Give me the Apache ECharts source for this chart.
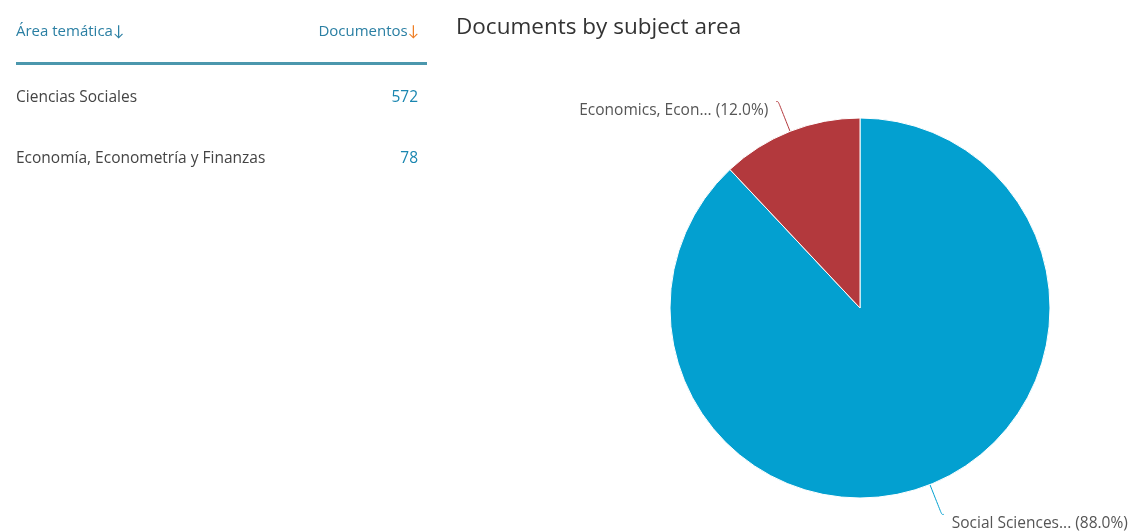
<!DOCTYPE html>
<html>
<head>
<meta charset="utf-8">
<script src="https://cdn.jsdelivr.net/npm/echarts@6/dist/echarts.min.js"></script>
<style>
  html, body { margin: 0; padding: 0; background: #fff; }
  #chart { width: 1135px; height: 531px; }
</style>
</head>
<body>
<div id="chart"></div>
<script>
// Table content (Spanish) and pie content (English)
const tableHeaders = ['Área temática', 'Documentos'];
const tableAreas = ['Ciencias Sociales', 'Economía, Econometría y Finanzas'];
const tableCounts = [572, 78];

const pieTitle = 'Documents by subject area';
const pieNames = ['Social Sciences', 'Economics, Econometrics and Finance'];
const pieValues = [572, 78];
const pieColors = ['#03a0d0', '#b3393d'];

const FONT = '"Open Sans", Lato, sans-serif';
const chart = echarts.init(document.getElementById('chart'), null, { renderer: 'canvas' });

// Left-hand table built from graphic elements
const graphics = [];
graphics.push({
  type: 'text', left: 16, top: 24,
  style: { text: tableHeaders[0] + '{a|↓}', fill: '#2a7fa3', font: '15px ' + FONT,
    rich: { a: { fill: '#2a7fa3', font: '15px ' + FONT } } }
});
graphics.push({
  type: 'text', right: 1135 - 419, top: 24,
  style: { text: tableHeaders[1] + '{a|↓}', fill: '#2a7fa3', font: '15px ' + FONT, align: 'right',
    rich: { a: { fill: '#ef7d22', font: '15px ' + FONT } } }
});
graphics.push({
  type: 'rect', shape: { x: 16, y: 62, width: 411, height: 3 },
  style: { fill: '#4b97ad' }
});
tableAreas.forEach(function (name, i) {
  const y = 90 + i * 61;
  graphics.push({
    type: 'text', left: 16, top: y,
    style: { text: name, fill: '#444', font: '15.5px ' + FONT }
  });
  graphics.push({
    type: 'text', right: 1135 - 418, top: y,
    style: { text: String(tableCounts[i]), fill: '#1a86b0', font: '15.5px ' + FONT, align: 'right' }
  });
});

chart.setOption({
  animation: false,
  title: {
    text: pieTitle, left: 451, top: 11,
    textStyle: { fontFamily: FONT, fontSize: 22.5, fontWeight: 'normal', color: '#333' }
  },
  graphic: graphics,
  series: [{
    type: 'pie',
    center: [860, 308],
    radius: 190,
    startAngle: 90,
    clockwise: true,
    avoidLabelOverlap: false,
    itemStyle: { borderColor: '#fff', borderWidth: 1 },
    label: {
      fontFamily: FONT, fontSize: 15.5, color: '#555',
      distanceToLabelLine: 8,
      formatter: function (p) {
        return '{t|' + p.name.slice(0, 15) + '... (' + p.percent.toFixed(1) + '%)}';
      },
      rich: {
        t: { fontFamily: FONT, fontSize: 15.5, color: '#555', padding: [18, 0, 0, 0] }
      }
    },
    labelLine: { length: 32, length2: 2, smooth: 0.3, lineStyle: { width: 1 } },
    data: pieNames.map(function (n, i) {
      return {
        name: n, value: pieValues[i],
        itemStyle: { color: pieColors[i] },
        labelLine: { lineStyle: { color: pieColors[i] } }
      };
    })
  }]
});
</script>
</body>
</html>
